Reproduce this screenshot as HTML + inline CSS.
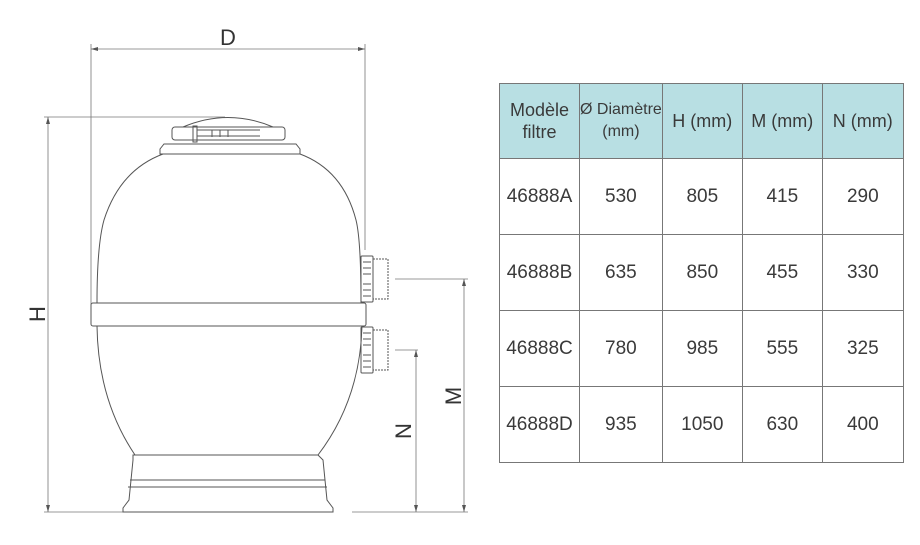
<!DOCTYPE html>
<html><head><meta charset="utf-8"><style>
body{margin:0;background:#fff;width:920px;height:545px;overflow:hidden;position:relative;font-family:"Liberation Sans",sans-serif}
svg{position:absolute;left:0;top:0}
table{position:absolute;left:499px;top:83px;border-collapse:collapse;color:#3a3a3a;table-layout:fixed}
td{border:1px solid #777;text-align:center;font-size:19px;padding:0;overflow:visible}
tr.h td{background:#b8dfe3;height:74px;font-size:18px;line-height:22px}
tr.r td{height:75px}
</style></head><body>
<svg width="920" height="545" viewBox="0 0 920 545" fill="none" stroke="#555" stroke-width="1">
<g stroke="#777" stroke-width="0.8">
<line x1="91" y1="49" x2="365" y2="49"/>
<line x1="91" y1="44" x2="91" y2="322"/>
<line x1="365" y1="44" x2="365" y2="250"/>
<line x1="48" y1="117" x2="48" y2="512"/>
<line x1="44" y1="117" x2="225" y2="117"/>
<line x1="44" y1="512" x2="126" y2="512"/>
<line x1="352" y1="512" x2="468" y2="512"/>
<line x1="395" y1="279" x2="468" y2="279"/>
<line x1="464" y1="279" x2="464" y2="512"/>
<line x1="395" y1="350" x2="418" y2="350"/>
<line x1="416" y1="350" x2="416" y2="512"/>
</g>
<g fill="#555" stroke="none">
<path d="M91 49 l7 -2 v4z"/><path d="M365 49 l-7 -2 v4z"/>
<path d="M48 117 l-2 7 h4z"/><path d="M48 512 l-2 -7 h4z"/>
<path d="M464 279 l-2 7 h4z"/><path d="M464 512 l-2 -7 h4z"/>
<path d="M416 350 l-2 7 h4z"/><path d="M416 512 l-2 -7 h4z"/>
</g>
<path d="M183 127 Q228 108 273 127"/>
<rect x="172" y="127" width="113" height="13" rx="3"/>
<rect x="193" y="126" width="4" height="16"/>
<path d="M197 130 h45 M197 136 h45 M212 130 v7 M220 130 v7 M228 130 v7 M236 130 h24 M236 136 h24"/>
<path d="M164 144 h132 l4 5 v5 h-140 v-5z"/>
<path d="M163 154 Q120 170 104 220 Q97 245 97 303 M300 154 Q343 170 356 220 Q361 240 361 303"/>
<rect x="91" y="303" width="275" height="23" rx="2"/>
<line x1="96" y1="303" x2="361" y2="303"/>
<path d="M97 326 Q98 400 135 455 M362 326 Q360 400 318 455"/>
<path d="M133 455 h185 l5 5 l4 40 l6 8 v4 h-210 v-4 l6 -8 l4 -40z"/>
<line x1="130" y1="480" x2="325" y2="480"/>
<line x1="128" y1="487" x2="327" y2="487"/>
<g>
<rect x="361" y="256" width="12" height="46" rx="1"/>
<rect x="373" y="259" width="15" height="40" stroke-dasharray="2 1"/>
<path d="M363 262 h8 M363 268 h8 M363 274 h8 M363 284 h8 M363 290 h8 M363 296 h8"/>
<rect x="361" y="327" width="12" height="46" rx="1"/>
<rect x="373" y="330" width="15" height="40" stroke-dasharray="2 1"/>
<path d="M363 333 h8 M363 339 h8 M363 345 h8 M363 355 h8 M363 361 h8 M363 367 h8"/>
</g>
<g fill="#333" stroke="none" font-family="Liberation Sans, sans-serif" font-size="22">
<text x="228" y="45" text-anchor="middle">D</text>
<text transform="translate(45 314) rotate(-90)" text-anchor="middle">H</text>
<text transform="translate(461 396) rotate(-90)" text-anchor="middle">M</text>
<text transform="translate(411 431) rotate(-90)" text-anchor="middle">N</text>
</g>
</svg>
<table>
<tr class="h"><td style="width:79px">Modèle<br>filtre</td><td style="width:81px;font-size:16px;white-space:nowrap">Ø Diamètre<br>(mm)</td><td style="width:79px">H (mm)</td><td style="width:79px">M (mm)</td><td style="width:80px">N (mm)</td></tr>
<tr class="r"><td>46888A</td><td>530</td><td>805</td><td>415</td><td>290</td></tr>
<tr class="r"><td>46888B</td><td>635</td><td>850</td><td>455</td><td>330</td></tr>
<tr class="r"><td>46888C</td><td>780</td><td>985</td><td>555</td><td>325</td></tr>
<tr class="r"><td>46888D</td><td>935</td><td>1050</td><td>630</td><td>400</td></tr>
</table>
</body></html>
